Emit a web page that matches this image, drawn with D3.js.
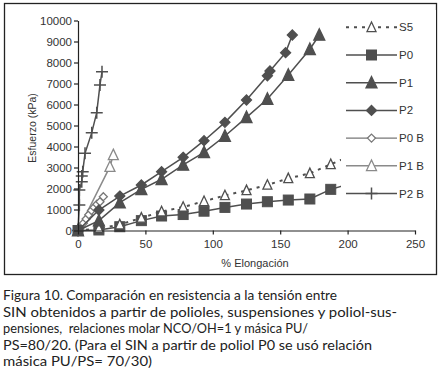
<!DOCTYPE html>
<html><head><meta charset="utf-8">
<script src="https://cdn.jsdelivr.net/npm/d3@7"></script>
<style>body{margin:0;background:#fff}svg{display:block}</style>
</head><body>
<script>
// ---- data ----
const xTicks = [0, 50, 100, 150, 200, 250];
const yTicks = [0,1000,2000,3000,4000,5000,6000,7000,8000,9000,10000];
const seriesNames = ["S5","P0","P1","P2","P0 B","P1 B","P2 B"];
const S5 = [[0,0],[15.5,100],[31,280],[47,600],[62,900],[78,1120],[93.5,1390],[109,1670],[125,1910],[140.5,2170],[156,2480],[172,2720],[187.5,3150],[205,3640]];
const P0 = [[0,0],[15.5,25],[31,180],[47,470],[62,690],[78,760],[93.5,920],[109,1100],[125,1260],[140.5,1370],[156,1450],[172,1500],[187.5,1960],[205,2290]];
const P1 = [[0,0],[15.5,470],[31,1325],[47,1960],[62,2440],[78,3120],[93.5,3720],[109,4500],[125,5390],[140.5,6260],[156,7400],[172,8630],[179,9310]];
const P2 = [[0,0],[15.5,975],[31,1640],[47,2167],[62,2800],[78,3485],[93.5,4276],[109,5150],[125,6215],[140.5,7370],[142.4,7595],[154,8470],[159,9310]];
const P0B = [[0,0],[2,150],[4,350],[6,550],[8,750],[10,950],[12,1100],[14,1250],[16.3,1370],[18.8,1610]];
const P1B = [[0,0],[23.7,3040],[26.2,3600]];
const P2B = [[0,0],[1,1215],[1,1930],[2.8,2325],[2.8,2595],[3.5,2800],[5.2,3675],[10.2,4660],[13.9,5610],[16.3,6930],[17.8,7560]];
const captionLines = [
  "Figura 10. Comparación en resistencia a la tensión entre",
  "SIN obtenidos a partir de polioles, suspensiones y poliol-sus-",
  "pensiones,  relaciones molar NCO/OH=1 y másica PU/",
  "PS=80/20. (Para el SIN a partir de poliol P0 se usó relación",
  "másica PU/PS= 70/30)"
];
const captionWidths = [334, 394, 305, 369, 149];

// ---- drawing ----
const W = 442, H = 385;
const svg = d3.select("body").append("svg").attr("width", W).attr("height", H);
const dark = "#4f4f4f";
const AX_FONT = "'Liberation Sans', Arial, Helvetica, sans-serif";
const x = d3.scaleLinear().domain([0, 250]).range([78, 415]);
const y = d3.scaleLinear().domain([0, 10000]).range([230.5, 20.5]);

svg.append("rect").attr("x", 4.5).attr("y", 3.5).attr("width", 432).attr("height", 271)
  .attr("fill", "none").attr("stroke", "#222").attr("stroke-width", 1.3);

const styles = {
  "S5":  {data: S5,  stroke: dark, width: 2, dash: "3,5", marker: "tri", fill: "#fff", mstroke: dark, size: 9},
  "P0":  {data: P0,  stroke: dark, width: 1.5, dash: null, marker: "sq", fill: dark, mstroke: dark, size: 10},
  "P1":  {data: P1,  stroke: dark, width: 1.5, dash: null, marker: "tri", fill: dark, mstroke: dark, size: 11},
  "P2":  {data: P2,  stroke: dark, width: 1.5, dash: null, marker: "dia", fill: dark, mstroke: dark, size: 10},
  "P0 B":{data: P0B, stroke: "#777", width: 1.2, dash: null, marker: "dia", fill: "#fff", mstroke: "#777", size: 8},
  "P1 B":{data: P1B, stroke: "#8a8a8a", width: 1.5, dash: null, marker: "tri", fill: "#fff", mstroke: "#8a8a8a", size: 10},
  "P2 B":{data: P2B, stroke: dark, width: 1.5, dash: null, marker: "plus", fill: "none", mstroke: dark, size: 12}
};

function drawMarker(g, type, cx, cy, s, fill, stroke) {
  if (type === "sq") {
    g.append("rect").attr("x", cx - s/2).attr("y", cy - s/2).attr("width", s).attr("height", s)
      .attr("fill", fill).attr("stroke", stroke).attr("stroke-width", 1);
  } else if (type === "tri") {
    const h = s * 0.95;
    g.append("path").attr("d", `M${cx},${cy - h/2 - 1}L${cx + s/2},${cy + h/2}L${cx - s/2},${cy + h/2}Z`)
      .attr("fill", fill).attr("stroke", stroke).attr("stroke-width", 1.3);
  } else if (type === "dia") {
    g.append("path").attr("d", `M${cx},${cy - s/2}L${cx + s/2},${cy}L${cx},${cy + s/2}L${cx - s/2},${cy}Z`)
      .attr("fill", fill).attr("stroke", stroke).attr("stroke-width", 1.3);
  } else if (type === "plus") {
    g.append("path").attr("d", `M${cx - s/2},${cy}H${cx + s/2}M${cx},${cy - s/2}V${cy + s/2}`)
      .attr("fill", "none").attr("stroke", stroke).attr("stroke-width", 1.5);
  }
}

const plot = svg.append("g");
const line = d3.line().x(d => x(d[0])).y(d => y(d[1]));
const order = ["P2 B","P1 B","P0 B","P0","S5","P1","P2"];
order.forEach(name => {
  const st = styles[name];
  plot.append("path").attr("d", line(st.data)).attr("fill", "none")
    .attr("stroke", st.stroke).attr("stroke-width", st.width)
    .attr("stroke-dasharray", st.dash);
  const mg = plot.append("g");
  st.data.forEach(d => drawMarker(mg, st.marker, x(d[0]), y(d[1]), st.size, st.fill, st.mstroke));
});

// axes
const yAxis = svg.append("g").attr("transform", `translate(${x(0)},0)`)
  .call(d3.axisLeft(y).tickValues(yTicks).tickFormat(d3.format("d")).tickSize(4).tickSizeOuter(0).tickPadding(2));
const xAxis = svg.append("g").attr("transform", `translate(0,${y(0)})`)
  .call(d3.axisBottom(x).tickValues(xTicks).tickFormat(d3.format("d")).tickSize(4).tickSizeOuter(0).tickPadding(5));
[yAxis, xAxis].forEach(a => {
  a.attr("font-family", AX_FONT).attr("font-size", 11.5);
  a.selectAll("path,line").attr("stroke", "#222").attr("stroke-width", 1.2);
  a.selectAll("text").attr("fill", "#333");
});

svg.append("text").attr("transform", "translate(36,128) rotate(-90)")
  .attr("text-anchor", "middle").attr("font-family", AX_FONT)
  .attr("font-size", 10.5).attr("fill", "#333").text("Esfuerzo (kPa)");
svg.append("text").attr("x", 255).attr("y", 267)
  .attr("text-anchor", "middle").attr("font-family", AX_FONT)
  .attr("font-size", 11).attr("fill", "#333").text("% Elongación");

// legend (white box hides lines beyond it)
svg.append("rect").attr("x", 341).attr("y", 10).attr("width", 95).attr("height", 200).attr("fill", "#fff");
seriesNames.forEach((name, i) => {
  const st = styles[name];
  const ly = 27.3 + i * 27.7;
  const lg = svg.append("g");
  lg.append("line").attr("x1", 346).attr("x2", 397).attr("y1", ly).attr("y2", ly)
    .attr("stroke", st.stroke).attr("stroke-width", st.width).attr("stroke-dasharray", st.dash);
  drawMarker(lg, st.marker, 371.5, ly, st.size, st.fill, st.mstroke);
  lg.append("text").attr("x", 399).attr("y", ly + 4).attr("font-family", AX_FONT)
    .attr("font-size", 11.5).attr("fill", "#333").text(name);
});

// caption
captionLines.forEach((t, i) => {
  svg.append("text").attr("x", 3).attr("y", 300 + i * 16.5)
    .attr("xml:space", "preserve").style("white-space", "pre")
    .attr("font-family", "Lato, 'Noto Sans', sans-serif").attr("font-size", 14).attr("fill", "#222")
    .attr("textLength", captionWidths[i]).attr("lengthAdjust", "spacingAndGlyphs").text(t);
});
</script>
</body></html>
